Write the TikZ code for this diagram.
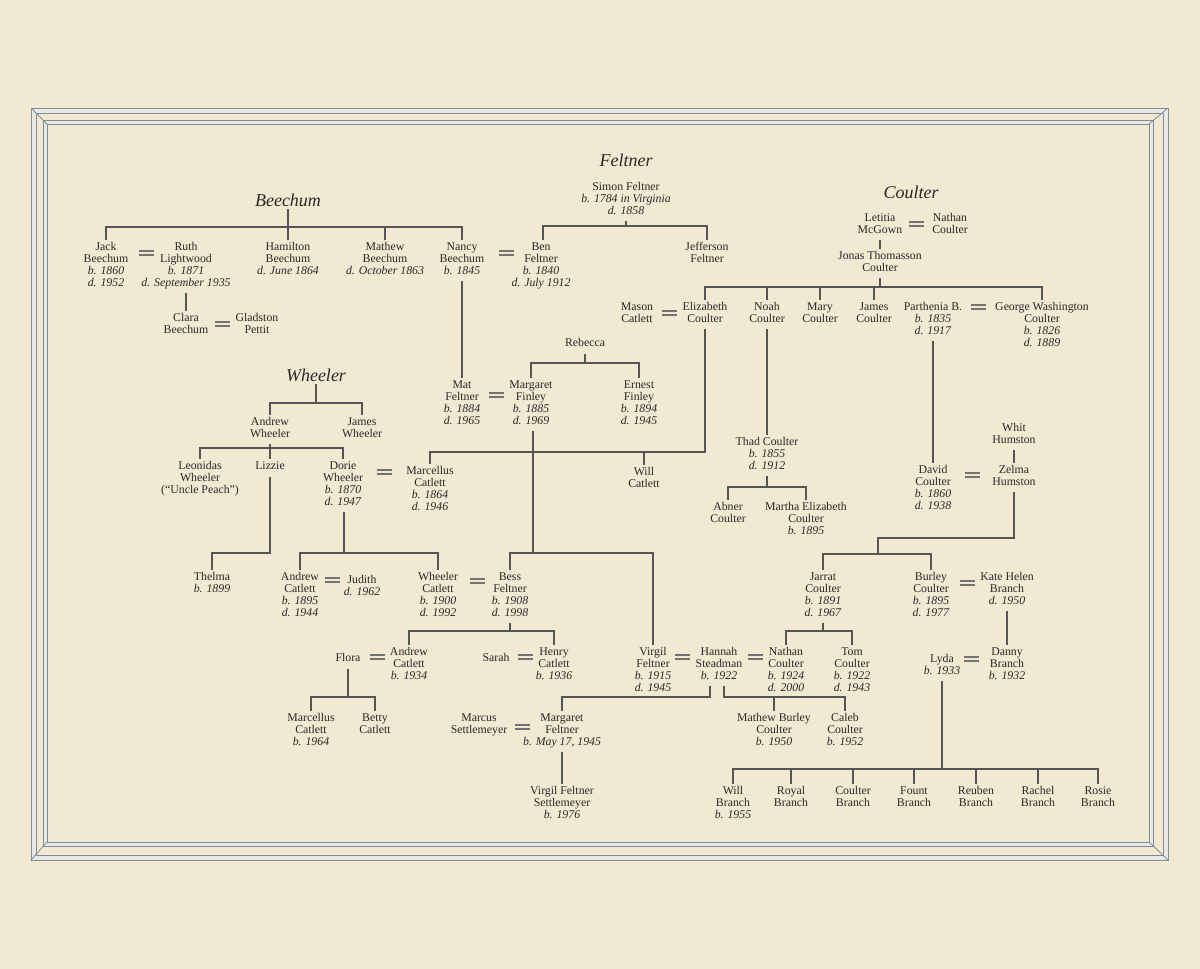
\documentclass[tikz,border=0pt]{standalone}
\usepackage{fontspec}
\setmainfont{Liberation Serif}
\usetikzlibrary{calc}
\definecolor{bg}{RGB}{242,233,210}
\definecolor{ink}{RGB}{40,40,40}
\definecolor{linec}{RGB}{85,85,85}
\definecolor{marrc}{RGB}{115,115,115}
\definecolor{framec}{RGB}{130,140,152}
\definecolor{bandfill}{RGB}{232,233,229}
\newcommand\dt[1]{\textit{#1}}
\begin{document}
\begin{tikzpicture}[x=1pt,y=-1pt,
  per/.style={font=\fontsize{11.8}{12}\selectfont, align=center, inner sep=0pt, outer sep=3pt,
    anchor=north, yshift=7.5pt, text=ink, execute at begin node=\strut, execute at end node=\strut},
  ttl/.style={font=\fontsize{18}{18}\selectfont\itshape, text=ink, inner sep=0pt, outer sep=3pt},
  ln/.style={draw=linec, line width=1.15pt},
  marrline/.style={draw=marrc, line width=1.5pt},
  marr/.pic={\draw[marrline] (-7.5,-1.9) -- (7.5,-1.9) (-7.5,1.9) -- (7.5,1.9);},
  band/.style={fill=bandfill, draw=framec, line width=0.9pt, even odd rule}
]
\useasboundingbox (0,0) rectangle (1200,969);
\fill[bg] (0,0) rectangle (1200,969);
% frame
\filldraw[band] (31,108) rectangle (1168,860) (36,113) rectangle (1163,855);
\filldraw[band] (43,120) rectangle (1153,846) (47,124) rectangle (1149,842);
\draw[framec, line width=0.8pt] (31,108) -- (47,124) (1168,108) -- (1149,124) (31,860) -- (47,842) (1168,860) -- (1149,842);

% titles
\node[ttl] (tB) at (288,200) {Beechum};
\node[ttl] (tF) at (626,160) {Feltner};
\node[ttl] (tC) at (911,192) {Coulter};
\node[ttl] (tW) at (316,375) {Wheeler};

% Beechum
\node[per] (jack) at (106,247) {Jack\\Beechum\\\dt{b. 1860}\\\dt{d. 1952}};
\node[per] (ruth) at (186,247) {Ruth\\Lightwood\\\dt{b. 1871}\\\dt{d. September 1935}};
\node[per] (hamilton) at (288,247) {Hamilton\\Beechum\\\dt{d. June 1864}};
\node[per] (mathew) at (385,247) {Mathew\\Beechum\\\dt{d. October 1863}};
\node[per] (nancy) at (462,247) {Nancy\\Beechum\\\dt{b. 1845}};
\node[per] (clara) at (186,318) {Clara\\Beechum};
\node[per] (gladston) at (257,318) {Gladston\\Pettit};

% Feltner
\node[per] (simon) at (626,187) {Simon Feltner\\\dt{b. 1784 in Virginia}\\\dt{d. 1858}};
\node[per] (ben) at (541,247) {Ben\\Feltner\\\dt{b. 1840}\\\dt{d. July 1912}};
\node[per] (jefferson) at (707,247) {Jefferson\\Feltner};

% Coulter
\node[per] (letitia) at (880,218) {Letitia\\McGown};
\node[per] (nathan) at (950,218) {Nathan\\Coulter};
\node[per] (jonas) at (880,256) {Jonas Thomasson\\Coulter};
\node[per] (mason) at (637,307) {Mason\\Catlett};
\node[per] (elizabeth) at (705,307) {Elizabeth\\Coulter};
\node[per] (noah) at (767,307) {Noah\\Coulter};
\node[per] (mary) at (820,307) {Mary\\Coulter};
\node[per] (james) at (874,307) {James\\Coulter};
\node[per] (parthenia) at (933,307) {Parthenia B.\\\dt{b. 1835}\\\dt{d. 1917}};
\node[per] (gw) at (1042,307) {George Washington\\Coulter\\\dt{b. 1826}\\\dt{d. 1889}};

% Feltner / Finley
\node[per] (rebecca) at (585,343) {Rebecca};
\node[per] (mat) at (462,385) {Mat\\Feltner\\\dt{b. 1884}\\\dt{d. 1965}};
\node[per] (margaretf) at (531,385) {Margaret\\Finley\\\dt{b. 1885}\\\dt{d. 1969}};
\node[per] (ernest) at (639,385) {Ernest\\Finley\\\dt{b. 1894}\\\dt{d. 1945}};

% Wheeler
\node[per] (andreww) at (270,422) {Andrew\\Wheeler};
\node[per] (jamesw) at (362,422) {James\\Wheeler};
\node[per] (leonidas) at (200,466) {Leonidas\\Wheeler\\(“Uncle Peach”)};
\node[per] (lizzie) at (270,466) {Lizzie};
\node[per] (dorie) at (343,466) {Dorie\\Wheeler\\\dt{b. 1870}\\\dt{d. 1947}};
\node[per] (marcellus) at (430,471) {Marcellus\\Catlett\\\dt{b. 1864}\\\dt{d. 1946}};
\node[per] (will) at (644,472) {Will\\Catlett};

% Coulter middle
\node[per] (thad) at (767,442) {Thad Coulter\\\dt{b. 1855}\\\dt{d. 1912}};
\node[per] (abner) at (728,507) {Abner\\Coulter};
\node[per] (martha) at (806,507) {Martha Elizabeth\\Coulter\\\dt{b. 1895}};
\node[per] (whit) at (1014,428) {Whit\\Humston};
\node[per] (david) at (933,470) {David\\Coulter\\\dt{b. 1860}\\\dt{d. 1938}};
\node[per] (zelma) at (1014,470) {Zelma\\Humston};

% row 577
\node[per] (thelma) at (212,577) {Thelma\\\dt{b. 1899}};
\node[per] (andrewc) at (300,577) {Andrew\\Catlett\\\dt{b. 1895}\\\dt{d. 1944}};
\node[per] (judith) at (362,580) {Judith\\\dt{d. 1962}};
\node[per] (wheelerc) at (438,577) {Wheeler\\Catlett\\\dt{b. 1900}\\\dt{d. 1992}};
\node[per] (bess) at (510,577) {Bess\\Feltner\\\dt{b. 1908}\\\dt{d. 1998}};
\node[per] (jarrat) at (823,577) {Jarrat\\Coulter\\\dt{b. 1891}\\\dt{d. 1967}};
\node[per] (burley) at (931,577) {Burley\\Coulter\\\dt{b. 1895}\\\dt{d. 1977}};
\node[per] (kate) at (1007,577) {Kate Helen\\Branch\\\dt{d. 1950}};

% row 652
\node[per] (flora) at (348,658) {Flora};
\node[per] (andrewc2) at (409,652) {Andrew\\Catlett\\\dt{b. 1934}};
\node[per] (sarah) at (496,658) {Sarah};
\node[per] (henry) at (554,652) {Henry\\Catlett\\\dt{b. 1936}};
\node[per] (virgil) at (653,652) {Virgil\\Feltner\\\dt{b. 1915}\\\dt{d. 1945}};
\node[per] (hannah) at (719,652) {Hannah\\Steadman\\\dt{b. 1922}};
\node[per] (nathanc) at (786,652) {Nathan\\Coulter\\\dt{b. 1924}\\\dt{d. 2000}};
\node[per] (tom) at (852,652) {Tom\\Coulter\\\dt{b. 1922}\\\dt{d. 1943}};
\node[per] (lyda) at (942,659) {Lyda\\\dt{b. 1933}};
\node[per] (danny) at (1007,652) {Danny\\Branch\\\dt{b. 1932}};

% row 718
\node[per] (marcellus2) at (311,718) {Marcellus\\Catlett\\\dt{b. 1964}};
\node[per] (betty) at (375,718) {Betty\\Catlett};
\node[per] (marcus) at (479,718) {Marcus\\Settlemeyer};
\node[per] (margaretfe) at (562,718) {Margaret\\Feltner\\\dt{b. May 17, 1945}};
\node[per] (mathewb) at (774,718) {Mathew Burley\\Coulter\\\dt{b. 1950}};
\node[per] (caleb) at (845,718) {Caleb\\Coulter\\\dt{b. 1952}};

% row 790
\node[per] (vfs) at (562,791) {Virgil Feltner\\Settlemeyer\\\dt{b. 1976}};
\node[per] (willb) at (733,791) {Will\\Branch\\\dt{b. 1955}};
\node[per] (royal) at (791,791) {Royal\\Branch};
\node[per] (coulterb) at (853,791) {Coulter\\Branch};
\node[per] (fount) at (914,791) {Fount\\Branch};
\node[per] (reuben) at (976,791) {Reuben\\Branch};
\node[per] (rachel) at (1038,791) {Rachel\\Branch};
\node[per] (rosie) at (1098,791) {Rosie\\Branch};

% marriages
\pic at (146,253) {marr};
\pic at (222,324) {marr};
\pic at (506,253) {marr};
\pic at (916,224) {marr};
\pic at (669,313) {marr};
\pic at (978,307) {marr};
\pic at (496,395) {marr};
\pic at (384,472) {marr};
\pic at (972,475) {marr};
\pic at (332,580) {marr};
\pic at (477,581) {marr};
\pic at (967,583) {marr};
\pic at (377,657) {marr};
\pic at (525,657) {marr};
\pic at (682,657) {marr};
\pic at (755,657) {marr};
\pic at (971,659) {marr};
\pic at (522,727) {marr};

% bracket levels
\coordinate (bB) at (0,227);
\coordinate (bF) at (0,226);
\coordinate (bC) at (0,287);
\coordinate (bE) at (0,452);
\coordinate (bT) at (0,487);
\coordinate (zk) at (878,538);
\coordinate (bJ) at (878,554);
\coordinate (bL) at (0,769);
\coordinate (bR) at (0,363);
\coordinate (bM) at (0,553);
\coordinate (bW) at (0,403);
\coordinate (bA) at (0,448);
\coordinate (bBe) at (0,631);
\coordinate (bFl) at (0,697);

% Beechum
\draw[ln] (tB.south) -- (hamilton.north);
\draw[ln] (jack.north) |- (nancy.north |- bB) -- (nancy.north);
\draw[ln] (mathew.north) -- (mathew.north |- bB);
\draw[ln] (ruth.south) -- (clara.north);
\draw[ln] (nancy.south) -- (mat.north);
% Feltner
\draw[ln] (simon.south) -- (simon.south |- bF);
\draw[ln] ([xshift=2pt]ben.north) |- (jefferson.north |- bF) -- (jefferson.north);
% Coulter
\draw[ln] (letitia.south) -- (jonas.north);
\draw[ln] (jonas.south) -- (jonas.south |- bC);
\draw[ln] (elizabeth.north) |- (gw.north |- bC) -- (gw.north);
\foreach \n in {noah,mary,james} \draw[ln] (\n.north) -- (\n.north |- bC);
\draw[ln] (elizabeth.south) |- (marcellus.north |- bE) -- (marcellus.north);
\draw[ln] (will.north) -- (will.north |- bE);
\draw[ln] (noah.south) -- (thad.north);
\draw[ln] (thad.south) -- (thad.south |- bT);
\draw[ln] (abner.north) |- (martha.north |- bT) -- (martha.north);
\draw[ln] (parthenia.south) -- (david.north);
\draw[ln] (whit.south) -- (zelma.north);
\draw[ln] (zelma.south) |- (zk) -- (bJ);
\draw[ln] (jarrat.north) |- (burley.north |- bJ) -- (burley.north);
\draw[ln] (kate.south) -- (danny.north);
\draw[ln] (lyda.south) -- (lyda.south |- bL);
\draw[ln] (willb.north) |- (rosie.north |- bL) -- (rosie.north);
\foreach \n in {royal,coulterb,fount,reuben,rachel} \draw[ln] (\n.north) -- (\n.north |- bL);
% Finley
\draw[ln] (rebecca.south) -- (rebecca.south |- bR);
\draw[ln] (margaretf.north) |- (ernest.north |- bR) -- (ernest.north);
\draw[ln] ([xshift=2pt]margaretf.south) -- ([xshift=2pt]margaretf.south |- bM);
\draw[ln] (bess.north) |- (virgil.north |- bM) -- (virgil.north);
% Wheeler
\draw[ln] (tW.south) -- (tW.south |- bW);
\draw[ln] (andreww.north) |- (jamesw.north |- bW) -- (jamesw.north);
\draw[ln] (andreww.south) -- (lizzie.north);
\draw[ln] (leonidas.north) |- (dorie.north |- bA) -- (dorie.north);
\draw[ln] (lizzie.south) |- (thelma.north |- bM) -- (thelma.north);
\draw[ln] ([xshift=1pt]dorie.south) -- ([xshift=1pt]dorie.south |- bM);
\draw[ln] (andrewc.north) |- (wheelerc.north |- bM) -- (wheelerc.north);
% Bess, Jarrat
\draw[ln] (bess.south) -- (bess.south |- bBe);
\draw[ln] (andrewc2.north) |- (henry.north |- bBe) -- (henry.north);
\draw[ln] (jarrat.south) -- (jarrat.south |- bBe);
\draw[ln] (nathanc.north) |- (tom.north |- bBe) -- (tom.north);
% Flora, Hannah
\draw[ln] (flora.south) -- (flora.south |- bFl);
\draw[ln] (marcellus2.north) |- (betty.north |- bFl) -- (betty.north);
\draw[ln] ([xshift=-9pt]hannah.south) |- (margaretfe.north |- bFl) -- (margaretfe.north);
\draw[ln] ([xshift=5pt]hannah.south) |- (caleb.north |- bFl) -- (caleb.north);
\draw[ln] (mathewb.north) -- (mathewb.north |- bFl);
\draw[ln] (margaretfe.south) -- (vfs.north);
\end{tikzpicture}
\end{document}
